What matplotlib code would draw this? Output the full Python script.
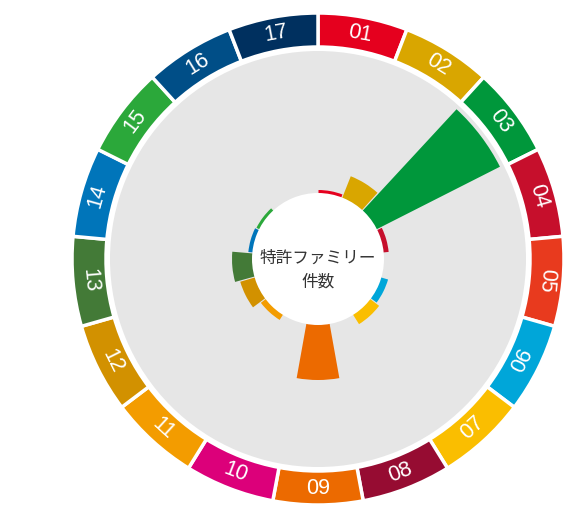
import numpy as np
import matplotlib
matplotlib.use('Agg')
import matplotlib.pyplot as plt

# SDG goals and patent family counts
goals = ['01', '02', '03', '04', '05', '06', '07', '08', '09',
         '10', '11', '12', '13', '14', '15', '16', '17']
counts = [4, 24, 139, 6, 0, 8, 12, 0, 56, 0, 7, 16, 21, 5, 4, 0, 0]
colors = ['#E5001E', '#D9A600', '#00973B', '#C60F2C', '#E83A1E', '#00A6D9',
          '#FABE00', '#960C32', '#EC6A00', '#DC007A', '#F39C00', '#D29100',
          '#437A37', '#0075BA', '#2BA83A', '#004E87', '#00305F']
center_label = '特許ファミリー\n件数'

n = len(goals)
step = 2 * np.pi / n
theta = np.arange(n) * step + step / 2

fig = plt.figure(figsize=(5.64, 5.09), dpi=100)
ax = fig.add_axes([70 / 564, 2 / 509, 496 / 564, 496 / 509], projection='polar')
ax.set_theta_zero_location('N')
ax.set_theta_direction(-1)
ax.set_ylim(0, 248)
ax.axis('off')

hole = 65

# grey background disc
ax.bar(0, 208, width=2 * np.pi, bottom=0, color='#E6E6E6', linewidth=0, zorder=1)

# data bars
ax.bar(theta, counts, width=step * 0.96, bottom=hole, color=colors,
       linewidth=0, zorder=2)

# white centre
ax.bar(0, 66, width=2 * np.pi, bottom=0, color='white', linewidth=0, zorder=3)
ax.text(np.pi, 11, center_label, ha='center', va='center',
        fontsize=12, color='#333333', family=['Noto Sans CJK JP', 'DejaVu Sans'],
        linespacing=1.5, zorder=4)

# outer ring with goal numbers
ax.bar(theta, 34, width=step, bottom=212, color=colors, edgecolor='white',
       linewidth=2.5, zorder=2)
for t, g in zip(theta, goals):
    deg = np.degrees(t)
    rot = -deg
    if 100 < deg < 280:
        rot += 180
    ax.text(t, 229, g, rotation=rot, rotation_mode='anchor', ha='center',
            va='center', fontsize=15.5, color='white', family='Liberation Sans',
            zorder=5)

plt.savefig('out.png', dpi=100)
